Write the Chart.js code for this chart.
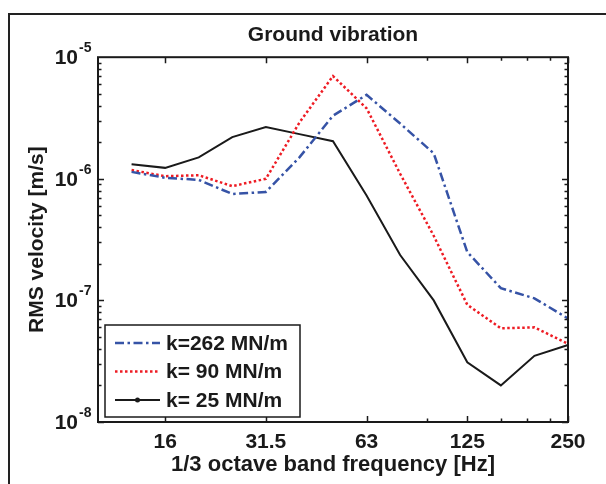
<!DOCTYPE html>
<html>
<head>
<meta charset="utf-8">
<title>Ground vibration</title>
<script src="https://cdn.jsdelivr.net/npm/chart.js@4.4.1/dist/chart.umd.min.js"></script>
<style>
  html, body { margin: 0; padding: 0; background: #fff; }
  #wrap { width: 606px; height: 484px; }
</style>
</head>
<body>
<div id="wrap"><canvas id="chart" width="606" height="484"></canvas></div>
<script>
'use strict';

// 1/3 octave bands, the first one only pads the axis on the left
const bands = ['10', '12.5', '16', '20', '25', '31.5', '40', '50', '63', '80', '100', '125', '160', '200', '250'];
const xTickLabels = ['16', '31.5', '63', '125', '250'];
const xMinorTicksHz = [96, 160, 192, 224];
const yTickValues = [1e-8, 1e-7, 1e-6, 1e-5];

const seriesLabels = ['k=262 MN/m', 'k= 90 MN/m', 'k= 25 MN/m'];
const k262 = [null, 1.14e-6, 1.02e-6, 9.8e-7, 7.5e-7, 7.8e-7, 1.5e-6, 3.3e-6, 4.9e-6, 2.85e-6, 1.62e-6, 2.5e-7, 1.26e-7, 1.04e-7, 7.1e-8];
const k90 = [null, 1.18e-6, 1.05e-6, 1.07e-6, 8.7e-7, 1.0e-6, 2.9e-6, 7.0e-6, 3.8e-6, 1.1e-6, 3.4e-7, 9.2e-8, 5.9e-8, 6.0e-8, 4.4e-8];
const k25 = [null, 1.32e-6, 1.23e-6, 1.5e-6, 2.2e-6, 2.67e-6, 2.33e-6, 2.04e-6, 7.3e-7, 2.36e-7, 1.0e-7, 3.1e-8, 2.0e-8, 3.5e-8, 4.3e-8];

const FONT = "'Liberation Sans', Arial, sans-serif";
const INK = '#1a1a1a';

// band index (fractional) of a frequency, counted from the 10 Hz band
function bandIndex(hz) {
  return 3 * Math.log2(hz / Number(bands[0]));
}

// matlab-ish decorations: outer frame, axes box, inward ticks, 10^n labels, boxed legend
const matlabLook = {
  id: 'matlabLook',
  beforeDraw(chart) {
    const ctx = chart.ctx;
    ctx.save();
    ctx.strokeStyle = '#222';
    ctx.lineWidth = 2;
    ctx.strokeRect(9, 14, 640, 520);
    ctx.restore();
  },
  afterDatasetsDraw(chart) {
    const { ctx, chartArea: a, scales: { x, y } } = chart;
    ctx.save();
    ctx.strokeStyle = INK;
    ctx.lineWidth = 2;
    ctx.strokeRect(a.left, a.top, a.width, a.height);

    // ticks
    ctx.lineWidth = 1.5;
    ctx.beginPath();
    for (let e = -8; e < -5; e++) {
      for (let m = 1; m < 10; m++) {
        const py = Math.round(y.getPixelForValue(m * Math.pow(10, e))) + 0.5;
        const len = m === 1 ? 6 : 3.5;
        ctx.moveTo(a.left, py); ctx.lineTo(a.left + len, py);
        ctx.moveTo(a.right, py); ctx.lineTo(a.right - len, py);
      }
    }
    xTickLabels.forEach((lbl) => {
      const px = Math.round(x.getPixelForValue(bands.indexOf(lbl))) + 0.5;
      ctx.moveTo(px, a.bottom); ctx.lineTo(px, a.bottom - 6);
      ctx.moveTo(px, a.top); ctx.lineTo(px, a.top + 6);
    });
    xMinorTicksHz.forEach((hz) => {
      const px = Math.round(x.getPixelForValue(bandIndex(hz))) + 0.5;
      ctx.moveTo(px, a.bottom); ctx.lineTo(px, a.bottom - 3.5);
      ctx.moveTo(px, a.top); ctx.lineTo(px, a.top + 3.5);
    });
    ctx.stroke();

    // y labels with superscript exponent
    ctx.fillStyle = INK;
    ctx.textBaseline = 'middle';
    yTickValues.forEach((v) => {
      const py = y.getPixelForValue(v);
      const ex = Math.round(Math.log10(v));
      const xs = a.left - 20;
      ctx.font = `bold 21px ${FONT}`;
      ctx.textAlign = 'right';
      ctx.fillText('10', xs, py + 1);
      ctx.font = `bold 14px ${FONT}`;
      ctx.textAlign = 'left';
      ctx.fillText(String(ex), xs + 1, py - 9);
    });

    // legend
    const lx = a.left + 7, lw = 195, lh = 92;
    const ly = a.bottom - 5 - lh;
    ctx.fillStyle = '#fff';
    ctx.fillRect(lx, ly, lw, lh);
    ctx.strokeStyle = INK;
    ctx.lineWidth = 1.5;
    ctx.setLineDash([]);
    ctx.strokeRect(lx, ly, lw, lh);
    chart.data.datasets.forEach((ds, i) => {
      const ry = ly + 18 + i * 28.5;
      ctx.save();
      ctx.strokeStyle = ds.borderColor;
      ctx.lineWidth = ds.borderWidth;
      ctx.setLineDash(ds.borderDash || []);
      ctx.beginPath();
      ctx.moveTo(lx + 10, ry);
      ctx.lineTo(lx + 55, ry);
      ctx.stroke();
      if (ds.pointStyle === 'circle') {
        ctx.fillStyle = ds.borderColor;
        ctx.beginPath();
        ctx.arc(lx + 32.5, ry, 2.5, 0, Math.PI * 2);
        ctx.fill();
      }
      ctx.restore();
      ctx.fillStyle = INK;
      ctx.font = `bold 21px ${FONT}`;
      ctx.textAlign = 'left';
      ctx.textBaseline = 'middle';
      ctx.fillText(ds.label, lx + 61, ry + 1);
    });
    ctx.restore();
  },
};

new Chart(document.getElementById('chart'), {
  type: 'line',
  data: {
    labels: bands,
    datasets: [
      {
        label: seriesLabels[0],
        data: k262,
        borderColor: '#3653a6',
        borderWidth: 2.5,
        borderDash: [9, 3.5, 2.5, 3.5],
      },
      {
        label: seriesLabels[1],
        data: k90,
        borderColor: '#ee1c24',
        borderWidth: 2.5,
        borderDash: [2.5, 2.5],
      },
      {
        label: seriesLabels[2],
        data: k25,
        borderColor: '#1a1a1a',
        borderWidth: 2,
        pointStyle: 'circle',
      },
    ],
  },
  options: {
    responsive: false,
    animation: false,
    events: [],
    elements: {
      line: { tension: 0, fill: false },
      point: { radius: 0, hoverRadius: 0 },
    },
    layout: { padding: { top: 10, right: 38, bottom: 0, left: 0 } },
    plugins: {
      legend: { display: false },
      tooltip: { enabled: false },
      title: {
        display: true,
        text: 'Ground vibration',
        fullSize: false,
        color: INK,
        font: { family: FONT, size: 21, weight: 'bold' },
        padding: { top: 13, bottom: 9 },
      },
    },
    scales: {
      x: {
        type: 'category',
        offset: false,
        grid: { display: false, drawTicks: false },
        border: { display: false },
        ticks: {
          autoSkip: false,
          maxRotation: 0,
          padding: 8,
          color: INK,
          font: { family: FONT, size: 21, weight: 'bold' },
          callback(value) {
            const lbl = this.getLabelForValue(value);
            return xTickLabels.includes(lbl) ? lbl : '';
          },
        },
        title: {
          display: true,
          text: '1/3 octave band frequency [Hz]',
          color: INK,
          font: { family: FONT, size: 22, weight: 'bold' },
          padding: { top: 0, bottom: 6 },
        },
        afterFit(scale) { scale.height = 62; },
      },
      y: {
        type: 'logarithmic',
        min: 1e-8,
        max: 1e-5,
        grid: { display: false, drawTicks: false },
        border: { display: false },
        ticks: { display: false },
        title: {
          display: true,
          text: 'RMS velocity [m/s]',
          color: INK,
          font: { family: FONT, size: 21, weight: 'bold' },
          padding: { top: 25, bottom: 0 },
        },
        afterFit(scale) { scale.width = 98; },
      },
    },
  },
  plugins: [matlabLook],
});
</script>
</body>
</html>
